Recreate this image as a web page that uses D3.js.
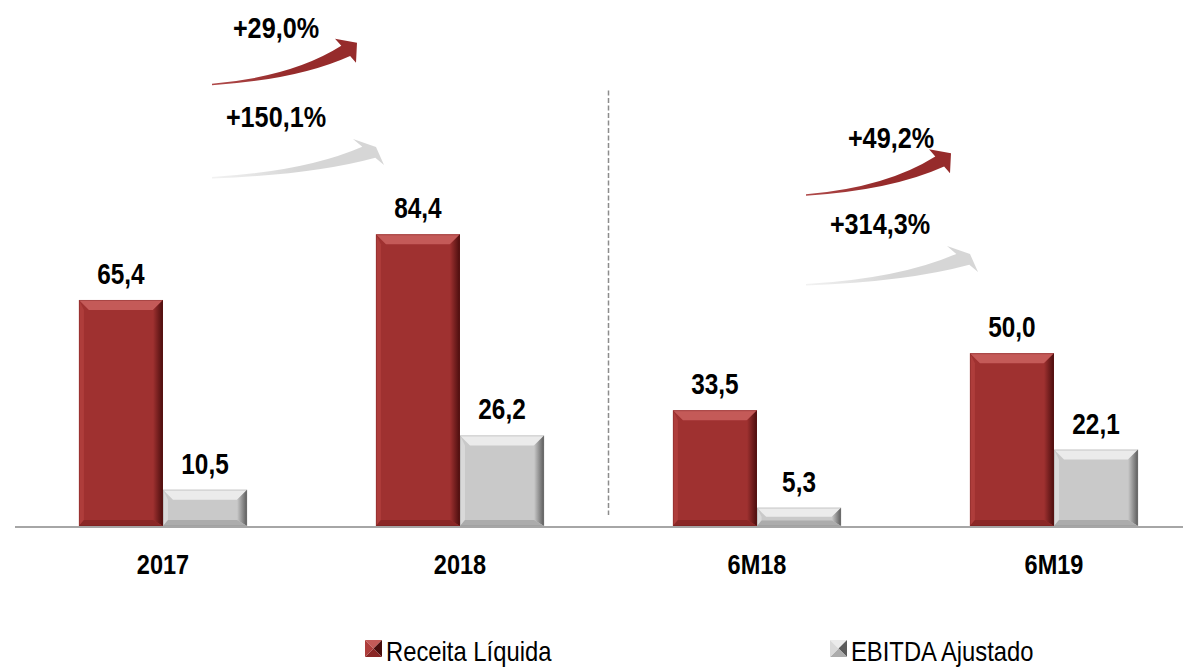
<!DOCTYPE html>
<html>
<head>
<meta charset="utf-8">
<script src="https://cdn.jsdelivr.net/npm/d3@7"></script>
<style>
  body { margin: 0; background: #fff; }
  svg { display: block; font-family: "Liberation Sans", Arial, sans-serif; }
</style>
</head>
<body>
<div id="vis"></div>
<script>
// ---- data ----
const categories = ["2017", "2018", "6M18", "6M19"];
const series = ["Receita Líquida", "EBITDA Ajustado"];
const receita = [65.4, 84.4, 33.5, 50.0];
const ebitda = [10.5, 26.2, 5.3, 22.1];
// growth annotations
const growthFrom = ["2017", "2017", "6M18", "6M18"];
const growthText = ["+29,0%", "+150,1%", "+49,2%", "+314,3%"];
const growthSeries = [0, 1, 0, 1];
const growthLevel = [128, 101, 96, 70];

const width = 1183;
const height = 669;
const baseY = 526;
const squeeze = 0.84; // text looks like a narrow face

const fmt = v => v.toFixed(1).replace(".", ",");

const svg = d3.select("#vis")
  .append("svg")
  .attr("width", width)
  .attr("height", height);

const defs = svg.append("defs");

// scales
const x0 = d3.scaleBand()
  .domain(categories)
  .range([14.5, 1202.5])
  .paddingInner(0.434)
  .paddingOuter(0.217);

const x1 = d3.scaleBand()
  .domain(series)
  .range([0, x0.bandwidth()]);

const y = d3.scaleLinear()
  .domain([0, 100])
  .range([baseY, baseY - 345.6]);

const palette = {
  "Receita Líquida": { face: "#9f3130", top: "#c45a58", left: "#ae3d3b", right: "#4a0d0d", bottom: "#8a2726", edge: "#6b1a1a" },
  "EBITDA Ajustado": { face: "#c9c9c9", top: "#ebebeb", left: "#d9d9d9", right: "#5a5a5a", bottom: "#acacac", edge: "#8a8a8a" }
};

// gradients for right bevel
series.forEach((s, i) => {
  const g = defs.append("linearGradient").attr("id", "rg" + i)
    .attr("x1", 0).attr("x2", 1).attr("y1", 0).attr("y2", 0);
  g.append("stop").attr("offset", 0).attr("stop-color", palette[s].face);
  g.append("stop").attr("offset", 1).attr("stop-color", palette[s].right);
});

function squeezeText(sel, f) {
  sel.each(function() {
    const len = this.getComputedTextLength();
    d3.select(this).attr("textLength", len * (f || squeeze)).attr("lengthAdjust", "spacingAndGlyphs");
  });
}

// beveled box
function bevelBox(g, bx, by, bw, bh, s, i, bev) {
  const c = palette[s];
  const b = Math.min(bev, bh / 2, bw / 2);
  const bb = b * 0.6;
  const x2 = bx + bw, y2 = by + bh;
  g.append("rect").attr("x", bx).attr("y", by).attr("width", bw).attr("height", bh).attr("fill", c.face);
  // top
  g.append("path").attr("fill", c.top)
    .attr("d", `M${bx},${by}L${x2},${by}L${x2 - b},${by + b}L${bx + b},${by + b}Z`);
  // left
  g.append("path").attr("fill", c.left)
    .attr("d", `M${bx},${by}L${bx + b * 0.5},${by + b}L${bx + b * 0.5},${y2 - bb}L${bx},${y2}Z`);
  // right
  g.append("path").attr("fill", `url(#rg${i})`)
    .attr("d", `M${x2},${by}L${x2},${y2}L${x2 - b},${y2 - bb}L${x2 - b},${by + b}Z`);
  // bottom
  g.append("path").attr("fill", c.bottom)
    .attr("d", `M${bx},${y2}L${x2},${y2}L${x2 - b},${y2 - bb}L${bx + b * 0.5},${y2 - bb}Z`);
  g.append("rect").attr("x", bx + 0.5).attr("y", by + 0.5).attr("width", bw - 1).attr("height", bh - 1)
    .attr("fill", "none").attr("stroke", c.edge).attr("stroke-opacity", 0.3);
}

// axis baseline
svg.append("line")
  .attr("x1", 15).attr("x2", width)
  .attr("y1", baseY + 1).attr("y2", baseY + 1)
  .attr("stroke", "#a6a6a6").attr("stroke-width", 2);

// dashed separator between annual and half-year groups
const sepX = (x0("2018") + x0.bandwidth() + x0("6M18")) / 2;
svg.append("line")
  .attr("x1", sepX).attr("x2", sepX)
  .attr("y1", y(126)).attr("y2", baseY - 11)
  .attr("stroke", "#8c8c8c").attr("stroke-width", 1.5)
  .attr("stroke-dasharray", "5,2.5");

// bars
const values = [receita, ebitda];
categories.forEach((cat, ci) => {
  series.forEach((s, si) => {
    const v = values[si][ci];
    const bx = x0(cat) + x1(s);
    const g = svg.append("g");
    bevelBox(g, bx, y(v), x1.bandwidth(), baseY - y(v), s, si, 10);
    svg.append("text")
      .attr("x", bx + x1.bandwidth() / 2)
      .attr("y", y(v) - 16)
      .attr("text-anchor", "middle")
      .attr("font-size", 29)
      .attr("font-weight", "bold")
      .attr("fill", "#000")
      .text(fmt(v))
      .call(squeezeText);
  });
});

// category labels
svg.selectAll(".cat")
  .data(categories)
  .join("text")
  .attr("class", "cat")
  .attr("x", d => x0(d) + x0.bandwidth() / 2)
  .attr("y", 574)
  .attr("text-anchor", "middle")
  .attr("font-size", 28)
  .attr("font-weight", "bold")
  .text(d => d)
  .call(squeezeText);

// growth arrows
const arrowColors = ["#962b2b", "#d6d6d6"];
series.forEach((s, i) => {
  const g = defs.append("linearGradient").attr("id", "ag" + i)
    .attr("x1", 0).attr("x2", 1).attr("y1", 0).attr("y2", 0);
  g.append("stop").attr("offset", 0).attr("stop-color", i === 0 ? "#b04a4a" : "#f2f2f2");
  g.append("stop").attr("offset", 0.5).attr("stop-color", arrowColors[i]);
  g.append("stop").attr("offset", 1).attr("stop-color", arrowColors[i]);
});

// head shapes relative to the tail: [A, B (tip), C]
const heads = [
  [[123, -45], [145, -41], [144, -21]],
  [[141, -38], [164, -30], [172, -12]]
];

growthFrom.forEach((from, k) => {
  const si = growthSeries[k];
  const tx = x0(from) + x1.bandwidth() + 49;
  const ty = y(growthLevel[k]);
  const [A, B, C] = heads[si];
  const p1 = [A[0] + 0.3 * (C[0] - A[0]), A[1] + 0.3 * (C[1] - A[1])];
  const p2 = [A[0] + 0.72 * (C[0] - A[0]), A[1] + 0.72 * (C[1] - A[1])];
  const path = d3.path();
  path.moveTo(0, 0);
  path.quadraticCurveTo(p1[0] * 0.62, p1[1] * 0.18, p1[0], p1[1]);
  path.lineTo(A[0], A[1]);
  path.lineTo(B[0], B[1]);
  path.lineTo(C[0], C[1]);
  path.lineTo(p2[0], p2[1]);
  path.quadraticCurveTo(p2[0] * 0.62, p2[1] * 0.2 + 1.5, 0, 1.5);
  path.closePath();
  svg.append("path")
    .attr("transform", `translate(${tx},${ty})`)
    .attr("d", path.toString())
    .attr("fill", `url(#ag${si})`);

  svg.append("text")
    .attr("x", tx + 64 + (k >= 2 ? (si === 0 ? 21 : 10) : 0))
    .attr("y", ty - (si === 0 ? 46 : 50))
    .attr("text-anchor", "middle")
    .attr("font-size", 30)
    .attr("font-weight", "bold")
    .text(growthText[k])
    .call(squeezeText);
});

// legend
const legendX = [365, 830];
const legend = svg.append("g");
series.forEach((s, i) => {
  const c = palette[s];
  const lx = legendX[i], ly = 640, sz = 17;
  const cx = lx + sz / 2, cy = ly + sz / 2;
  legend.append("path").attr("fill", c.top).attr("d", `M${lx},${ly}L${lx + sz},${ly}L${cx},${cy}Z`);
  legend.append("path").attr("fill", c.right).attr("d", `M${lx + sz},${ly}L${lx + sz},${ly + sz}L${cx},${cy}Z`);
  legend.append("path").attr("fill", c.bottom).attr("d", `M${lx},${ly + sz}L${lx + sz},${ly + sz}L${cx},${cy}Z`);
  legend.append("path").attr("fill", c.left).attr("d", `M${lx},${ly}L${lx},${ly + sz}L${cx},${cy}Z`);
  legend.append("text")
    .attr("x", lx + sz + 4)
    .attr("y", ly + sz + 4)
    .attr("font-size", 28)
    .attr("fill", "#000")
    .text(s)
    .call(squeezeText, 0.85);
});
</script>
</body>
</html>
